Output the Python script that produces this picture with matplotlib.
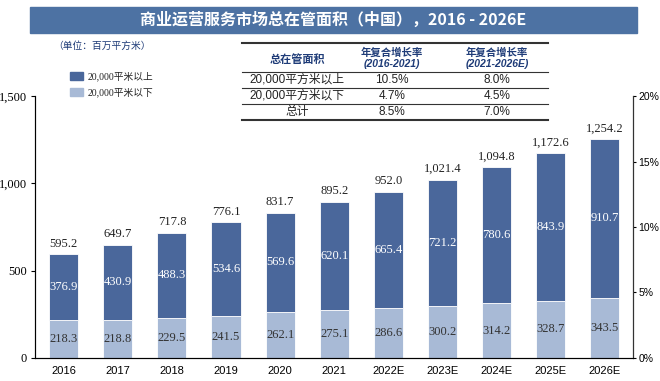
import matplotlib.pyplot as plt
from matplotlib.patches import Rectangle

plt.rcParams['font.family'] = ['Liberation Serif', 'Noto Sans CJK SC', 'DejaVu Sans']

years = ['2016', '2017', '2018', '2019', '2020', '2021',
         '2022E', '2023E', '2024E', '2025E', '2026E']
above_20k = [376.9, 430.9, 488.3, 534.6, 569.6, 620.1, 665.4, 721.2, 780.6, 843.9, 910.7]
below_20k = [218.3, 218.8, 229.5, 241.5, 262.1, 275.1, 286.6, 300.2, 314.2, 328.7, 343.5]
totals = [595.2, 649.7, 717.8, 776.1, 831.7, 895.2, 952.0, 1021.4, 1094.8, 1172.6, 1254.2]

table_header = ['总在管面积', '年复合增长率\n(2016-2021)', '年复合增长率\n(2021-2026E)']
table_rows = [['20,000平方米以上', '10.5%', '8.0%'],
              ['20,000平方米以下', '4.7%', '4.5%'],
              ['总计', '8.5%', '7.0%']]

dark = '#4a679b'
light = '#a8bad6'
navy = '#1f3c78'
sans = ['Liberation Sans', 'Noto Sans CJK SC']
cjk = ['Liberation Serif', 'Noto Sans CJK SC']

fig = plt.figure(figsize=(6.6, 3.81), dpi=100)
ax = fig.add_axes([0.053, 0.0604, 0.906, 0.6876])

x = range(len(years))
w = 0.54
ax.bar(x, below_20k, w, color=light, edgecolor='white', linewidth=0.6)
ax.bar(x, above_20k, w, bottom=below_20k, color=dark, edgecolor='white', linewidth=0.6)

for i in x:
    ax.text(i, below_20k[i] / 2, f'{below_20k[i]:.1f}', ha='center', va='center',
            fontsize=9, color='#333333')
    ax.text(i, below_20k[i] + above_20k[i] / 2, f'{above_20k[i]:.1f}', ha='center',
            va='center', fontsize=9, color='white')
    ax.text(i, totals[i] + 25, f'{totals[i]:,.1f}', ha='center', va='bottom',
            fontsize=9, color='#222222')

ax.set_xlim(-0.53, 10.52)
ax.set_ylim(0, 1500)
ax.set_yticks([0, 500, 1000, 1500])
ax.set_yticklabels(['0', '500', '1,000', '1,500'], fontsize=9)
ax.set_xticks(list(x))
ax.set_xticklabels(years, fontsize=8, family=sans)
ax.tick_params(axis='x', length=0, pad=6)
ax.tick_params(axis='y', length=3, pad=3)
ax.spines['top'].set_visible(False)
ax.spines['left'].set_color('#333333')
ax.spines['bottom'].set_color('#333333')

ax2 = ax.twinx()
ax2.set_ylim(0, 0.20)
ax2.set_yticks([0, 0.05, 0.10, 0.15, 0.20])
ax2.set_yticklabels(['0%', '5%', '10%', '15%', '20%'], fontsize=7.5, family=sans)
ax2.tick_params(axis='y', length=2.5, pad=1.5)
ax2.spines['top'].set_visible(False)
ax2.spines['right'].set_color('#333333')

# title banner
fig.patches.append(Rectangle((30 / 660, 1 - 33 / 381), 607 / 660, 26 / 381,
                             transform=fig.transFigure, color='#4d72a3', zorder=0))
fig.text(333 / 660, 1 - 20 / 381, '商业运营服务市场总在管面积（中国），2016 - 2026E',
         ha='center', va='center', color='white', fontsize=11.5, fontweight='bold',
         family=['Noto Sans CJK SC'])

fig.text(53 / 660, 1 - 46 / 381, '（单位：百万平方米）', ha='left', va='center',
         fontsize=7, color=navy, family=cjk)

# legend
for yy, col, lab in [(76, dark, '20,000平米以上'), (92, light, '20,000平米以下')]:
    fig.patches.append(Rectangle((70 / 660, 1 - (yy + 4) / 381), 13 / 660, 8 / 381,
                                 transform=fig.transFigure, color=col))
    fig.text(88 / 660, 1 - yy / 381, lab, ha='left', va='center', fontsize=7,
             color='#222222', family=cjk)

# growth table
x0, x1 = 242 / 660, 548 / 660
col_x = [297, 392, 497]
line_y = [43, 72, 88, 104, 120]
for k, ly in enumerate(line_y):
    lw = 1.5 if k in (0, 4) else 0.8
    fig.add_artist(plt.Line2D([x0, x1], [1 - ly / 381] * 2, transform=fig.transFigure,
                              color='#333333', linewidth=lw))
fig.text(col_x[0] / 660, 1 - 60 / 381, table_header[0], ha='center', va='center',
         fontsize=8, color=navy, fontstyle='italic', fontweight='bold',
         family=['Noto Sans CJK SC'])
for j in (1, 2):
    fig.text(col_x[j] / 660, 1 - 58 / 381, table_header[j], ha='center', va='center',
             fontsize=7.5, color=navy, fontstyle='italic', fontweight='bold',
             family=['Liberation Sans', 'Noto Sans CJK SC'], linespacing=1.1)
row_y = [80, 96, 112]
for r, row in enumerate(table_rows):
    for j, val in enumerate(row):
        fig.text(col_x[j] / 660, 1 - row_y[r] / 381, val, ha='center', va='center',
                 fontsize=8.5, color='#222222',
                 family=sans if j else ['Liberation Sans', 'Noto Sans CJK SC'])

fig.savefig('out.png', dpi=100)
